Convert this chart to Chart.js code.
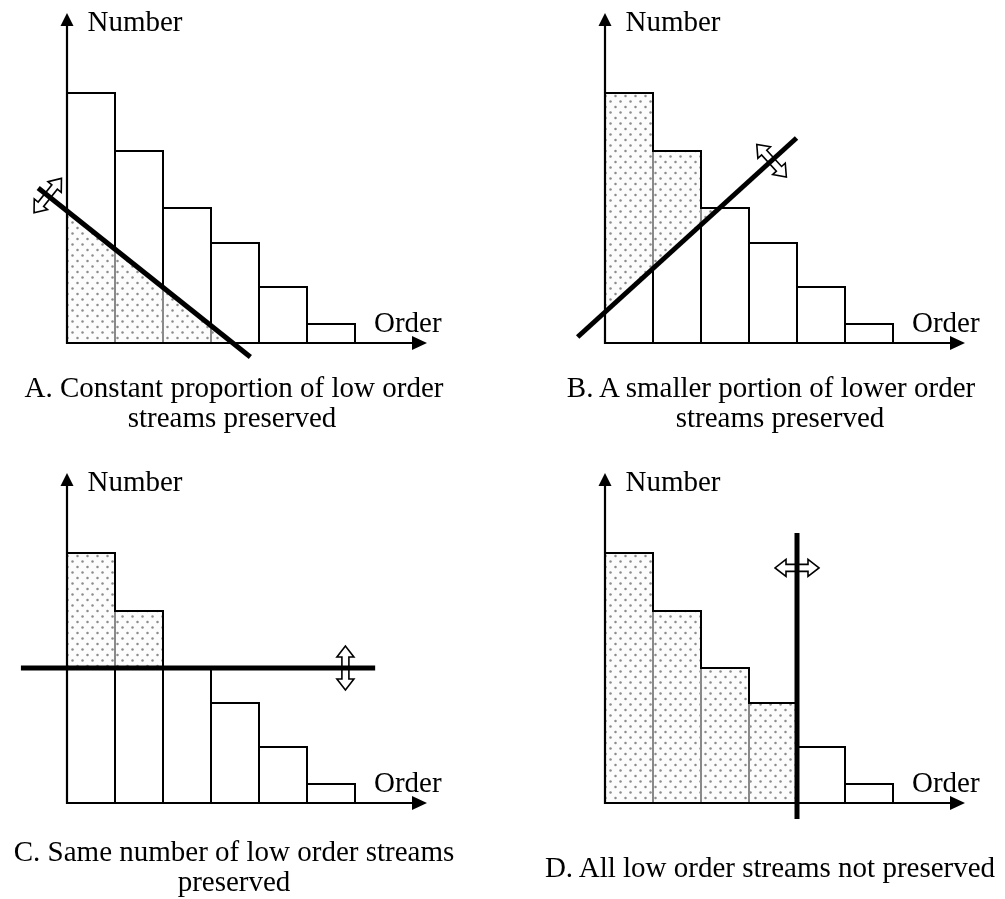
<!DOCTYPE html>
<html>
<head>
<meta charset="utf-8">
<script src="https://cdn.jsdelivr.net/npm/chart.js@4/dist/chart.umd.min.js"></script>
<style>
html, body { margin: 0; padding: 0; background: #fff; overflow: hidden; }
body { width: 1005px; height: 899px; position: relative; font-family: "Liberation Serif", "Times New Roman", serif; }
canvas { position: absolute; }
.cap { position: absolute; font-size: 29px; line-height: 30px; white-space: nowrap; color: #000; transform: translateX(-50%); }
</style>
</head>
<body>
<canvas id="chartA" width="500" height="440" style="left:0;top:0"></canvas>
<canvas id="chartB" width="467" height="440" style="left:538px;top:0"></canvas>
<canvas id="chartC" width="500" height="439" style="left:0;top:460px"></canvas>
<canvas id="chartD" width="467" height="439" style="left:538px;top:460px"></canvas>

<div class="cap" style="left:234px;top:372px">A. Constant proportion of low order</div>
<div class="cap" style="left:232px;top:402px">streams preserved</div>
<div class="cap" style="left:771px;top:372px">B. A smaller portion of lower order</div>
<div class="cap" style="left:780px;top:402px">streams preserved</div>
<div class="cap" style="left:234px;top:836px">C. Same number of low order streams</div>
<div class="cap" style="left:234px;top:866px">preserved</div>
<div class="cap" style="left:770px;top:852px">D. All low order streams not preserved</div>

<script>
var orders = ['1', '2', '3', '4', '5', '6'];
var streamCounts = [250, 192, 135, 100, 56, 19];
var yMax = 330;

// threshold lines in data units: x = order index (bar i spans i-0.5..i+0.5), y = count
var cutA = [[-1.1, 155], [3.32, -14]];
var cutB = [[-1.07, 6], [3.49, 205]];
var cutC = [[-1.46, streamCounts[2]], [5.92, streamCounts[2]]];
var cutD = [[3.5, 270], [3.5, -16]];

var panels = [
    {id: 'chartA', cut: cutA, keep: 'below', handle: 0.045, pad: {left: 67, right: 145, top: 13, bottom: 97}},
    {id: 'chartB', cut: cutB, keep: 'above', handle: 0.886, pad: {left: 67, right: 112, top: 13, bottom: 97}},
    {id: 'chartC', cut: cutC, keep: 'above', handle: 0.916, pad: {left: 67, right: 145, top: 13, bottom: 96}},
    {id: 'chartD', cut: cutD, keep: 'left', handle: 0.122, pad: {left: 67, right: 112, top: 13, bottom: 96}}
];

// staggered grey dots used for the preserved part
function dotPattern(ctx) {
    var tile = document.createElement('canvas');
    tile.width = 10; tile.height = 11;
    var t = tile.getContext('2d');
    t.fillStyle = '#8c8c8c';
    t.beginPath(); t.arc(2.5, 2.5, 1.25, 0, Math.PI * 2); t.fill();
    t.beginPath(); t.arc(7.5, 8, 1.25, 0, Math.PI * 2); t.fill();
    return ctx.createPattern(tile, 'repeat');
}

// hollow two-headed arrow centred at (cx, cy), pointing along (ux, uy)
function doubleArrow(ctx, cx, cy, ux, uy) {
    var L = 22, h = 11, w = 8.5, s = 3.5;
    var pts = [[-L, 0], [-L + h, w], [-L + h, s], [L - h, s], [L - h, w], [L, 0],
               [L - h, -w], [L - h, -s], [-L + h, -s], [-L + h, -w]];
    ctx.save();
    ctx.beginPath();
    pts.forEach(function (p, i) {
        var x = cx + p[0] * ux - p[1] * uy;
        var y = cy + p[0] * uy + p[1] * ux;
        if (i === 0) ctx.moveTo(x, y); else ctx.lineTo(x, y);
    });
    ctx.closePath();
    ctx.fillStyle = '#fff';
    ctx.fill();
    ctx.lineWidth = 1.6;
    ctx.lineJoin = 'miter';
    ctx.strokeStyle = '#000';
    ctx.stroke();
    ctx.restore();
}

var sketch = {
    id: 'sketch',
    afterDatasetsDraw: function (chart, args, opts) {
        var ctx = chart.ctx, area = chart.chartArea;
        var xs = chart.scales.x, ys = chart.scales.y;
        var bars = chart.getDatasetMeta(0).data;
        var base = ys.getPixelForValue(0);

        // bar outlines
        ctx.save();
        ctx.lineWidth = 2;
        ctx.strokeStyle = '#000';
        bars.forEach(function (b) {
            ctx.strokeRect(b.x - b.width / 2, b.y, b.width, base - b.y);
        });
        ctx.restore();

        // staircase outline of all bars
        var stairs = new Path2D();
        stairs.moveTo(bars[0].x - bars[0].width / 2, base);
        bars.forEach(function (b) {
            stairs.lineTo(b.x - b.width / 2, b.y);
            stairs.lineTo(b.x + b.width / 2, b.y);
        });
        var last = bars[bars.length - 1];
        stairs.lineTo(last.x + last.width / 2, base);
        stairs.closePath();

        // threshold line in pixels
        var c = opts.cut;
        var p1 = [xs.getPixelForValue(c[0][0]), ys.getPixelForValue(c[0][1])];
        var p2 = [xs.getPixelForValue(c[1][0]), ys.getPixelForValue(c[1][1])];
        var dx = p2[0] - p1[0], dy = p2[1] - p1[1], len = Math.hypot(dx, dy);
        var ux = dx / len, uy = dy / len;
        var nx = -uy, ny = ux;
        var ref = {below: [0, 1], above: [0, -1], left: [-1, 0]}[opts.keep];
        if (nx * ref[0] + ny * ref[1] < 0) { nx = -nx; ny = -ny; }
        var B = 5000;
        var half = new Path2D();
        half.moveTo(p1[0] - ux * B, p1[1] - uy * B);
        half.lineTo(p2[0] + ux * B, p2[1] + uy * B);
        half.lineTo(p2[0] + ux * B + nx * B, p2[1] + uy * B + ny * B);
        half.lineTo(p1[0] - ux * B + nx * B, p1[1] - uy * B + ny * B);
        half.closePath();

        // preserved part: dotted, inner bar edges fade to grey
        ctx.save();
        ctx.clip(stairs);
        ctx.clip(half);
        ctx.fillStyle = 'rgba(250,250,250,0.55)';
        ctx.fillRect(0, 0, chart.width, chart.height);
        ctx.fillStyle = dotPattern(ctx);
        ctx.fillRect(0, 0, chart.width, chart.height);
        ctx.restore();
        ctx.save();
        ctx.clip(half);
        ctx.lineWidth = 2;
        ctx.strokeStyle = '#000';
        ctx.stroke(stairs);
        ctx.restore();

        // movable handle, then the threshold line over it
        var hx = p1[0] + dx * opts.handle, hy = p1[1] + dy * opts.handle;
        doubleArrow(ctx, hx, hy, nx, ny);
        ctx.save();
        ctx.lineWidth = 5;
        ctx.lineCap = 'butt';
        ctx.strokeStyle = '#000';
        ctx.beginPath();
        ctx.moveTo(p1[0], p1[1]);
        ctx.lineTo(p2[0], p2[1]);
        ctx.stroke();

        // axes with arrow heads
        var xEnd = area.right + 72;
        ctx.lineWidth = 2.2;
        ctx.beginPath();
        ctx.moveTo(area.left, base + 1);
        ctx.lineTo(area.left, area.top + 10);
        ctx.moveTo(area.left - 1, base);
        ctx.lineTo(xEnd - 10, base);
        ctx.stroke();
        ctx.fillStyle = '#000';
        ctx.beginPath();
        ctx.moveTo(area.left, area.top);
        ctx.lineTo(area.left - 6.5, area.top + 13);
        ctx.lineTo(area.left + 6.5, area.top + 13);
        ctx.closePath();
        ctx.fill();
        ctx.beginPath();
        ctx.moveTo(xEnd, base);
        ctx.lineTo(xEnd - 15, base - 7);
        ctx.lineTo(xEnd - 15, base + 7);
        ctx.closePath();
        ctx.fill();

        ctx.font = '29px "Liberation Serif"';
        ctx.textBaseline = 'alphabetic';
        ctx.fillText('Number', area.left + 20.5, area.top + 18);
        ctx.fillText('Order', area.right + 19, base - 11);
        ctx.restore();
    }
};

panels.forEach(function (p) {
    var element = document.getElementById(p.id).getContext('2d');
    new Chart(element, {
        type: 'bar',
        data: {
            labels: orders,
            datasets: [{
                data: streamCounts,
                backgroundColor: '#fff',
                borderWidth: 0,
                barPercentage: 1,
                categoryPercentage: 1
            }]
        },
        options: {
            responsive: false,
            animation: false,
            layout: {padding: p.pad},
            scales: {
                x: {display: false},
                y: {display: false, min: 0, max: yMax}
            },
            plugins: {
                legend: {display: false},
                tooltip: {enabled: false},
                sketch: {cut: p.cut, keep: p.keep, handle: p.handle}
            }
        },
        plugins: [sketch]
    });
});
</script>
</body>
</html>
